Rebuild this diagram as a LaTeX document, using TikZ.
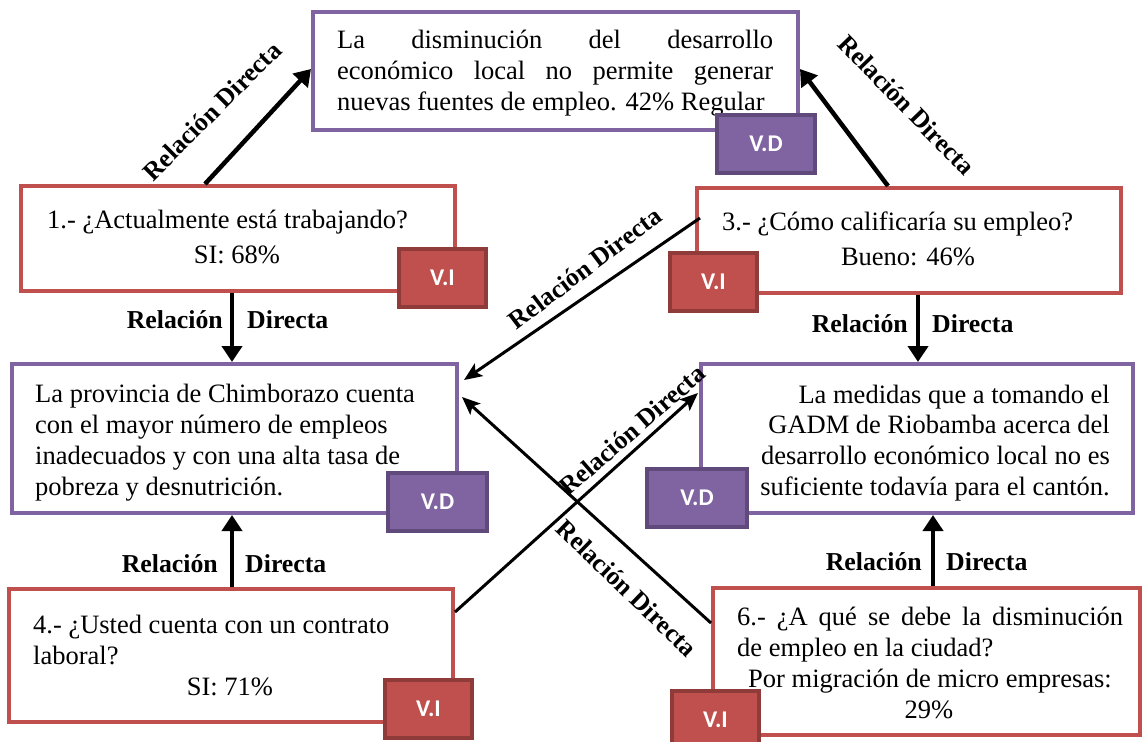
\documentclass[tikz,border=0pt]{standalone}
\usepackage{fontspec}
\setmainfont{Liberation Serif}
\newfontfamily\tagfont{Carlito}
\usetikzlibrary{arrows.meta}
\definecolor{redb}{HTML}{C0504D}
\definecolor{redd}{HTML}{8E3B39}
\definecolor{purb}{HTML}{8064A2}
\definecolor{purd}{HTML}{604A7B}
\tikzset{
  box/.style={draw, line width=4pt, fill=white, rectangle, inner sep=0pt},
  redbox/.style={box, draw=redb},
  purbox/.style={box, draw=purb},
  tagbox/.style={rectangle, line width=4pt, inner sep=0pt, text=white,
     font=\tagfont\fontsize{24}{26}\selectfont\bfseries,
     minimum width=87pt, minimum height=58pt},
  vi/.style={tagbox, fill=redb, draw=redd},
  vd/.style={tagbox, fill=purb, draw=purd, minimum width=99pt},
  txt/.style={inner sep=0pt, font=\fontsize{26.5}{31.5}\selectfont},
  lbl/.style={inner sep=0pt, font=\fontsize{25.8}{30}\selectfont\bfseries},
  bigarr/.style={line width=4.5pt, -{Triangle[length=16pt,width=20pt]}},
  diagarr/.style={line width=3pt, -{Stealth[length=18pt,width=15pt,inset=4pt]}}
}
\begin{document}
\begin{tikzpicture}[x=1pt,y=-1pt]
\useasboundingbox (0,0) rectangle (1144,742);
\clip (0,0) rectangle (1144,742);
% boxes
\node[purbox, minimum width=485pt, minimum height=118pt] (top) at (555.5,71) {};
\node[redbox, minimum width=434pt, minimum height=105pt] (b1) at (238,238.5) {};
\node[redbox, minimum width=424pt, minimum height=105pt] (b3) at (909,240.5) {};
\node[purbox, minimum width=445pt, minimum height=149pt] (lm) at (234.5,438.5) {};
\node[purbox, minimum width=432pt, minimum height=149pt] (rm) at (917,438.5) {};
\node[redbox, minimum width=444pt, minimum height=133pt] (b4) at (231,655.5) {};
\node[redbox, minimum width=427pt, minimum height=147pt] (b6) at (926.5,661.5) {};
% texts
\node[txt, anchor=base west] (t1) at (337,48) {\hbox to 436pt{La\hfill disminución\hfill del\hfill desarrollo}};
\node[txt, anchor=base west] (t2) at (337,79) {\hbox to 436pt{económico\hfill local\hfill no\hfill permite\hfill generar}};
\node[txt, anchor=base west] (t3) at (337,110) {nuevas fuentes de empleo. 42\% Regular};
\node[txt, anchor=base west] (q1a) at (47,228) {1.- ¿Actualmente está trabajando?};
\node[txt, anchor=base] (q1b) at (237,263) {SI: 68\%};
\node[txt, anchor=base west] (q3a) at (722,230) {3.- ¿Cómo calificaría su empleo?};
\node[txt, anchor=base] (q3b) at (908,265) {Bueno: 46\%};
\node[txt, anchor=base west] (l1) at (35,402) {La provincia de Chimborazo cuenta};
\node[txt, anchor=base west] (l2) at (35,433) {con el mayor número de empleos};
\node[txt, anchor=base west] (l3) at (35,464) {inadecuados y con una alta tasa de};
\node[txt, anchor=base west] (l4) at (35,495) {pobreza y desnutrición.};
\node[txt, anchor=base east] (r1) at (1110,403) {La medidas que a tomando el};
\node[txt, anchor=base east] (r2) at (1110,433) {GADM de Riobamba acerca del};
\node[txt, anchor=base east] (r3) at (1110,464) {desarrollo económico local no es};
\node[txt, anchor=base east] (r4) at (1110,495) {suficiente todavía para el cantón.};
\node[txt, anchor=base west] (q4a) at (33,633) {4.- ¿Usted cuenta con un contrato};
\node[txt, anchor=base west] (q4b) at (33,664) {laboral?};
\node[txt, anchor=base] (q4c) at (230,695) {SI: 71\%};
\node[txt, anchor=base west] (q6a) at (737,625) {\hbox to 386pt{6.-\hfill ¿A\hfill qué\hfill se\hfill debe\hfill la\hfill disminución}};
\node[txt, anchor=base west] (q6b) at (737,656) {de empleo en la ciudad?};
\node[txt, anchor=base] (q6c) at (930,687) {Por migración de micro empresas:};
\node[txt, anchor=base] (q6d) at (929,718) {29\%};
% tags
\node[vd, minimum width=98pt] (tagtop) at (766,144) {V.D};
\node[vi] (tag1) at (442.5,278) {V.I};
\node[vi] (tag3) at (713.5,281.5) {V.I};
\node[vd] (taglm) at (437.5,501.5) {V.D};
\node[vd, minimum width=100pt] (tagrm) at (697,497.5) {V.D};
\node[vi] (tag4) at (428.5,709) {V.I};
\node[vi] (tag6) at (715.5,720) {V.I};
% arrows
\draw[bigarr] ([xshift=-33pt]b1.north) -- ([yshift=2pt]top.west);
\draw[bigarr] ([xshift=-21pt]b3.north) -- ([yshift=2pt]top.east);
\draw[bigarr] ([xshift=-6pt]b1.south) -- ([xshift=-2.5pt]lm.north);
\draw[bigarr] ([xshift=9pt]b3.south) -- ([xshift=1pt]rm.north);
\draw[bigarr] ([xshift=1pt]b4.north) -- ([xshift=-2.5pt]lm.south);
\draw[bigarr] ([xshift=6.5pt]b6.north) -- ([xshift=16pt]rm.south);
\draw[diagarr] ([xshift=5pt,yshift=22.5pt]b3.west) -- ([xshift=5pt,yshift=58.5pt]lm.east);
\draw[diagarr] ([yshift=43.5pt]b4.east) -- ([xshift=-1pt,yshift=45.5pt]rm.west);
\draw[diagarr] ([yshift=38.5pt]b6.west) -- ([xshift=3pt,yshift=41.5pt]lm.east);
% labels
\node[lbl, rotate=45] (la1) at (212,111) {Relación Directa};
\node[lbl, rotate=-46] (la2) at (907,105) {Relación Directa};
\node[lbl, anchor=base east] (la3a) at (223,328) {Relación};
\node[lbl, anchor=base west] (la3b) at (247,328) {Directa};
\node[lbl, anchor=base east] (la4a) at (908,332) {Relación};
\node[lbl, anchor=base west] (la4b) at (932,332) {Directa};
\node[lbl, anchor=base east] (la5a) at (218,572) {Relación};
\node[lbl, anchor=base west] (la5b) at (245,572) {Directa};
\node[lbl, anchor=base east] (la6a) at (922,570) {Relación};
\node[lbl, anchor=base west] (la6b) at (946,570) {Directa};
\node[lbl, rotate=37] (la7) at (585,268) {Relación Directa};
\node[lbl, rotate=41] (la8) at (632,430) {Relación Directa};
\node[lbl, rotate=-44] (la9) at (627,588) {Relación Directa};
\end{tikzpicture}
\end{document}
